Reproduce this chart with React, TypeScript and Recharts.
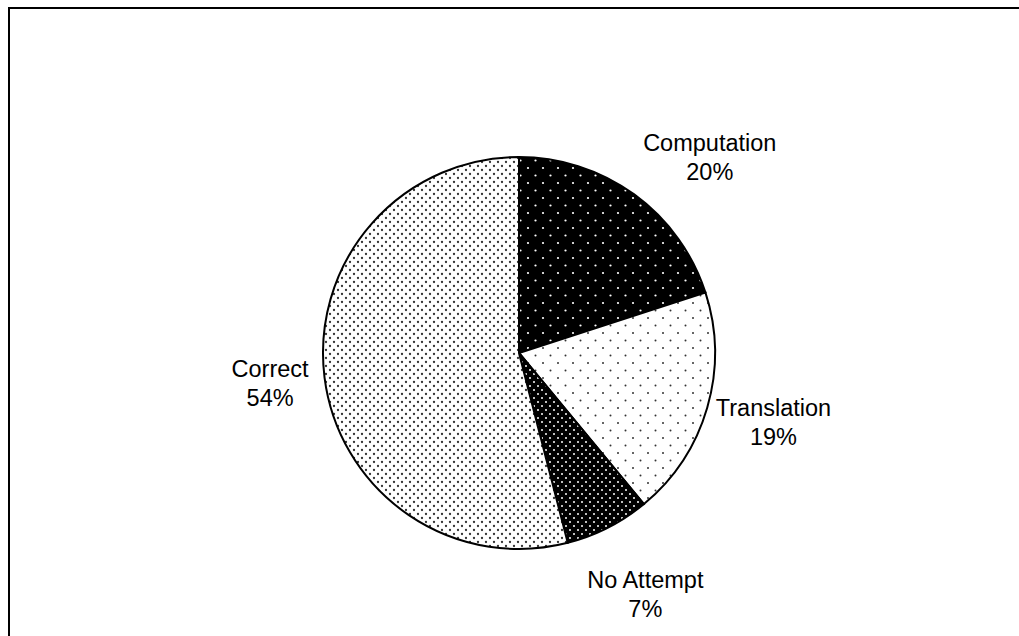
import { PieChart, Pie, Cell } from "recharts";

const categories = ["Computation", "Translation", "No Attempt", "Correct"];
const shares = [20, 19, 7, 54];

const PATTERN_IDS = ["pat-comp", "pat-trans", "pat-none", "pat-correct"];

// small tweaks so the labels sit where the original put them
const LABEL_NUDGE: Record<string, [number, number]> = {
  Computation: [35, 18],
  Translation: [0, -5],
  "No Attempt": [6, 5],
  Correct: [14, -3],
};

const RAD = Math.PI / 180;

const data = categories.map((name, i) => ({ name, value: shares[i] }));

function renderLabel(props: any) {
  const { cx, cy, midAngle, name, value } = props;
  const r = 265;
  const [nx, ny] = LABEL_NUDGE[name] ?? [0, 0];
  const x = cx + r * Math.cos(-midAngle * RAD) + nx;
  const y = cy + r * Math.sin(-midAngle * RAD) + ny;
  return (
    <text
      x={x}
      y={y}
      textAnchor="middle"
      fill="#000"
      fontSize={23.5}
      fontFamily="'Liberation Sans', Arial, sans-serif"
    >
      <tspan x={x} dy={-6}>
        {name}
      </tspan>
      <tspan x={x} dy={29}>
        {value}%
      </tspan>
    </text>
  );
}

export default function App() {
  return (
    <div
      style={{
        position: "absolute",
        left: 0,
        top: 0,
        width: 1019,
        height: 636,
        background: "#fff",
        overflow: "hidden",
      }}
    >
      <div
        style={{
          position: "absolute",
          left: 8,
          top: 7,
          width: 1100,
          height: 700,
          borderLeft: "2px solid #000",
          borderTop: "2px solid #000",
        }}
      />
      <PieChart
        width={1019}
        height={636}
        margin={{ top: 0, right: 0, bottom: 0, left: 0 }}
        style={{ position: "absolute", left: 0, top: 0 }}
      >
        <defs>
          <pattern id="pat-comp" width={15} height={15} patternUnits="userSpaceOnUse">
            <rect width={15} height={15} fill="#000" />
            <circle cx={3} cy={3} r={1.1} fill="#fff" />
            <circle cx={10.5} cy={10.5} r={1.1} fill="#fff" />
          </pattern>
          <pattern id="pat-trans" width={15} height={15} patternUnits="userSpaceOnUse">
            <rect width={15} height={15} fill="#fff" />
            <circle cx={3} cy={3} r={1} fill="#333" />
            <circle cx={10.5} cy={10.5} r={1} fill="#333" />
          </pattern>
          <pattern id="pat-none" width={8} height={8} patternUnits="userSpaceOnUse">
            <rect width={8} height={8} fill="#000" />
            <circle cx={2} cy={2} r={1} fill="#fff" />
            <circle cx={6} cy={6} r={1} fill="#fff" />
          </pattern>
          <pattern id="pat-correct" width={8} height={8} patternUnits="userSpaceOnUse">
            <rect width={8} height={8} fill="#fff" />
            <circle cx={2} cy={2} r={1.15} fill="#333" />
            <circle cx={6} cy={6} r={1.15} fill="#333" />
          </pattern>
        </defs>
        <Pie
          data={data}
          dataKey="value"
          nameKey="name"
          cx={519}
          cy={353}
          outerRadius={196}
          startAngle={90}
          endAngle={-270}
          stroke="#000"
          strokeWidth={2}
          label={renderLabel}
          labelLine={false}
          isAnimationActive={false}
        >
          {data.map((d, i) => (
            <Cell key={d.name} fill={`url(#${PATTERN_IDS[i]})`} />
          ))}
        </Pie>
      </PieChart>
    </div>
  );
}
